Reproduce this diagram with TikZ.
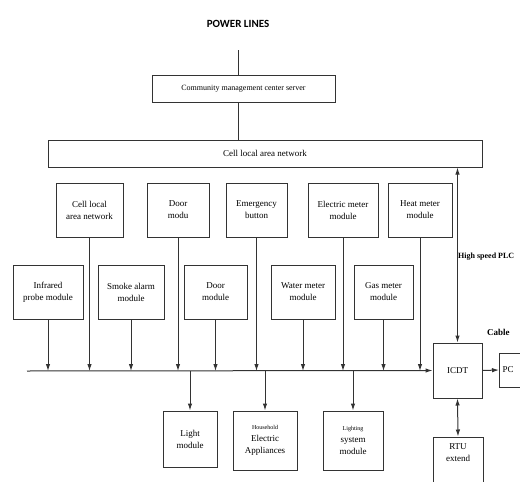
\documentclass[tikz,border=0pt]{standalone}
\usepackage{fontspec}
\setmainfont{Liberation Serif}
\newfontfamily\titlefont{Carlito}
\usetikzlibrary{arrows.meta}
\begin{document}
\begin{tikzpicture}[x=1pt,y=-1pt,
  box/.style={draw=black!80,line width=1pt,align=center,inner sep=1pt,
    font=\fontsize{9}{12}\selectfont},
  conn/.style={draw=black!80,line width=1pt},
  arr/.style={conn,-{Latex[length=7pt,width=4.5pt]}},
  darr/.style={conn,{Latex[length=7pt,width=4.5pt]}-{Latex[length=7pt,width=4.5pt]}}]
\useasboundingbox (0,0) rectangle (520,482);
\begin{scope}
\clip (0,0) rectangle (520,482);
\node[font=\titlefont\bfseries\fontsize{11}{13}\selectfont] (title) at (238,24) {POWER LINES};
\coordinate (pwr) at (238,50);
\node[box,minimum width=183pt,minimum height=27pt,font=\fontsize{8}{10}\selectfont] (comm) at (243.5,88.5) {Community management center server};
\node[box,minimum width=434pt,minimum height=27pt] (lan) at (265,153.5) {Cell local area network};
% row 1
\node[box,minimum width=67pt,minimum height=54pt] (cell) at (89.5,210) {Cell local\\area network};
\node[box,minimum width=62pt,minimum height=54pt] (doormodu) at (178,210) {Door\\modu};
\node[box,minimum width=61pt,minimum height=54pt] (emerg) at (256.5,210) {Emergency\\button};
\node[box,minimum width=70pt,minimum height=54pt] (elec) at (343,210) {Electric meter\\module};
\node[box,minimum width=64pt,minimum height=54pt] (heat) at (420,210) {Heat meter\\module};
% row 2
\node[box,minimum width=70pt,minimum height=54pt] (infra) at (48,292) {Infrared\\probe module};
\node[box,minimum width=66pt,minimum height=54pt] (smoke) at (131,292) {Smoke alarm\\module};
\node[box,minimum width=63pt,minimum height=54pt] (door) at (215.5,292) {Door\\module};
\node[box,minimum width=64pt,minimum height=54pt] (water) at (303,292) {Water meter\\module};
\node[box,minimum width=59pt,minimum height=54pt] (gas) at (383.5,292) {Gas meter\\module};
% right side
\node[box,minimum width=49pt,minimum height=55pt] (icdt) at (457.5,370.5) {ICDT};
\node[box,minimum height=34pt,anchor=west,text width=36pt,align=left,inner xsep=3pt] (pc) at (499,370) {PC};
\node[box,minimum width=50pt,minimum height=56pt] (rtu) at (458,465) {RTU\\extend\\[12pt]};
% bottom
\node[box,minimum width=54pt,minimum height=56pt] (light) at (190,439) {Light\\module};
\node[box,minimum width=64pt,minimum height=59pt] (house) at (265,440.5) {{\fontsize{6}{7}\selectfont Household}\\Electric\\Appliances};
\node[box,minimum width=60pt,minimum height=59pt] (lsys) at (353,440.5) {{\fontsize{6}{7}\selectfont Lighting}\\system\\module};
% labels
\node[anchor=west,inner sep=0pt,font=\bfseries\fontsize{8}{10}\selectfont] (hs) at (458,257) {High speed PLC};
\node[anchor=west,inner sep=0pt,font=\bfseries\fontsize{9}{11}\selectfont] (cable) at (487,332) {Cable};
% bus
\coordinate (busL) at (27,371);
\draw[arr] (busL) -- (icdt.west);
% connectors
\draw[conn] (pwr) -- (title.center |- comm.north);
\draw[conn] (title.center |- comm.south) -- (title.center |- lan.north);
\foreach \n in {cell,doormodu,emerg,elec,heat,infra,smoke,door,water,gas}{
  \draw[arr] (\n.south) -- (\n.south |- busL);
}
\foreach \n in {light,house,lsys}{
  \draw[arr] (\n.north |- busL) -- (\n.north);
}
\draw[darr] (lan.south -| icdt.north) -- (icdt.north);
\draw[darr] (icdt.south) -- (rtu.north);
\draw[arr] (icdt.east) -- (pc.west);
\end{scope}
\end{tikzpicture}
\end{document}
